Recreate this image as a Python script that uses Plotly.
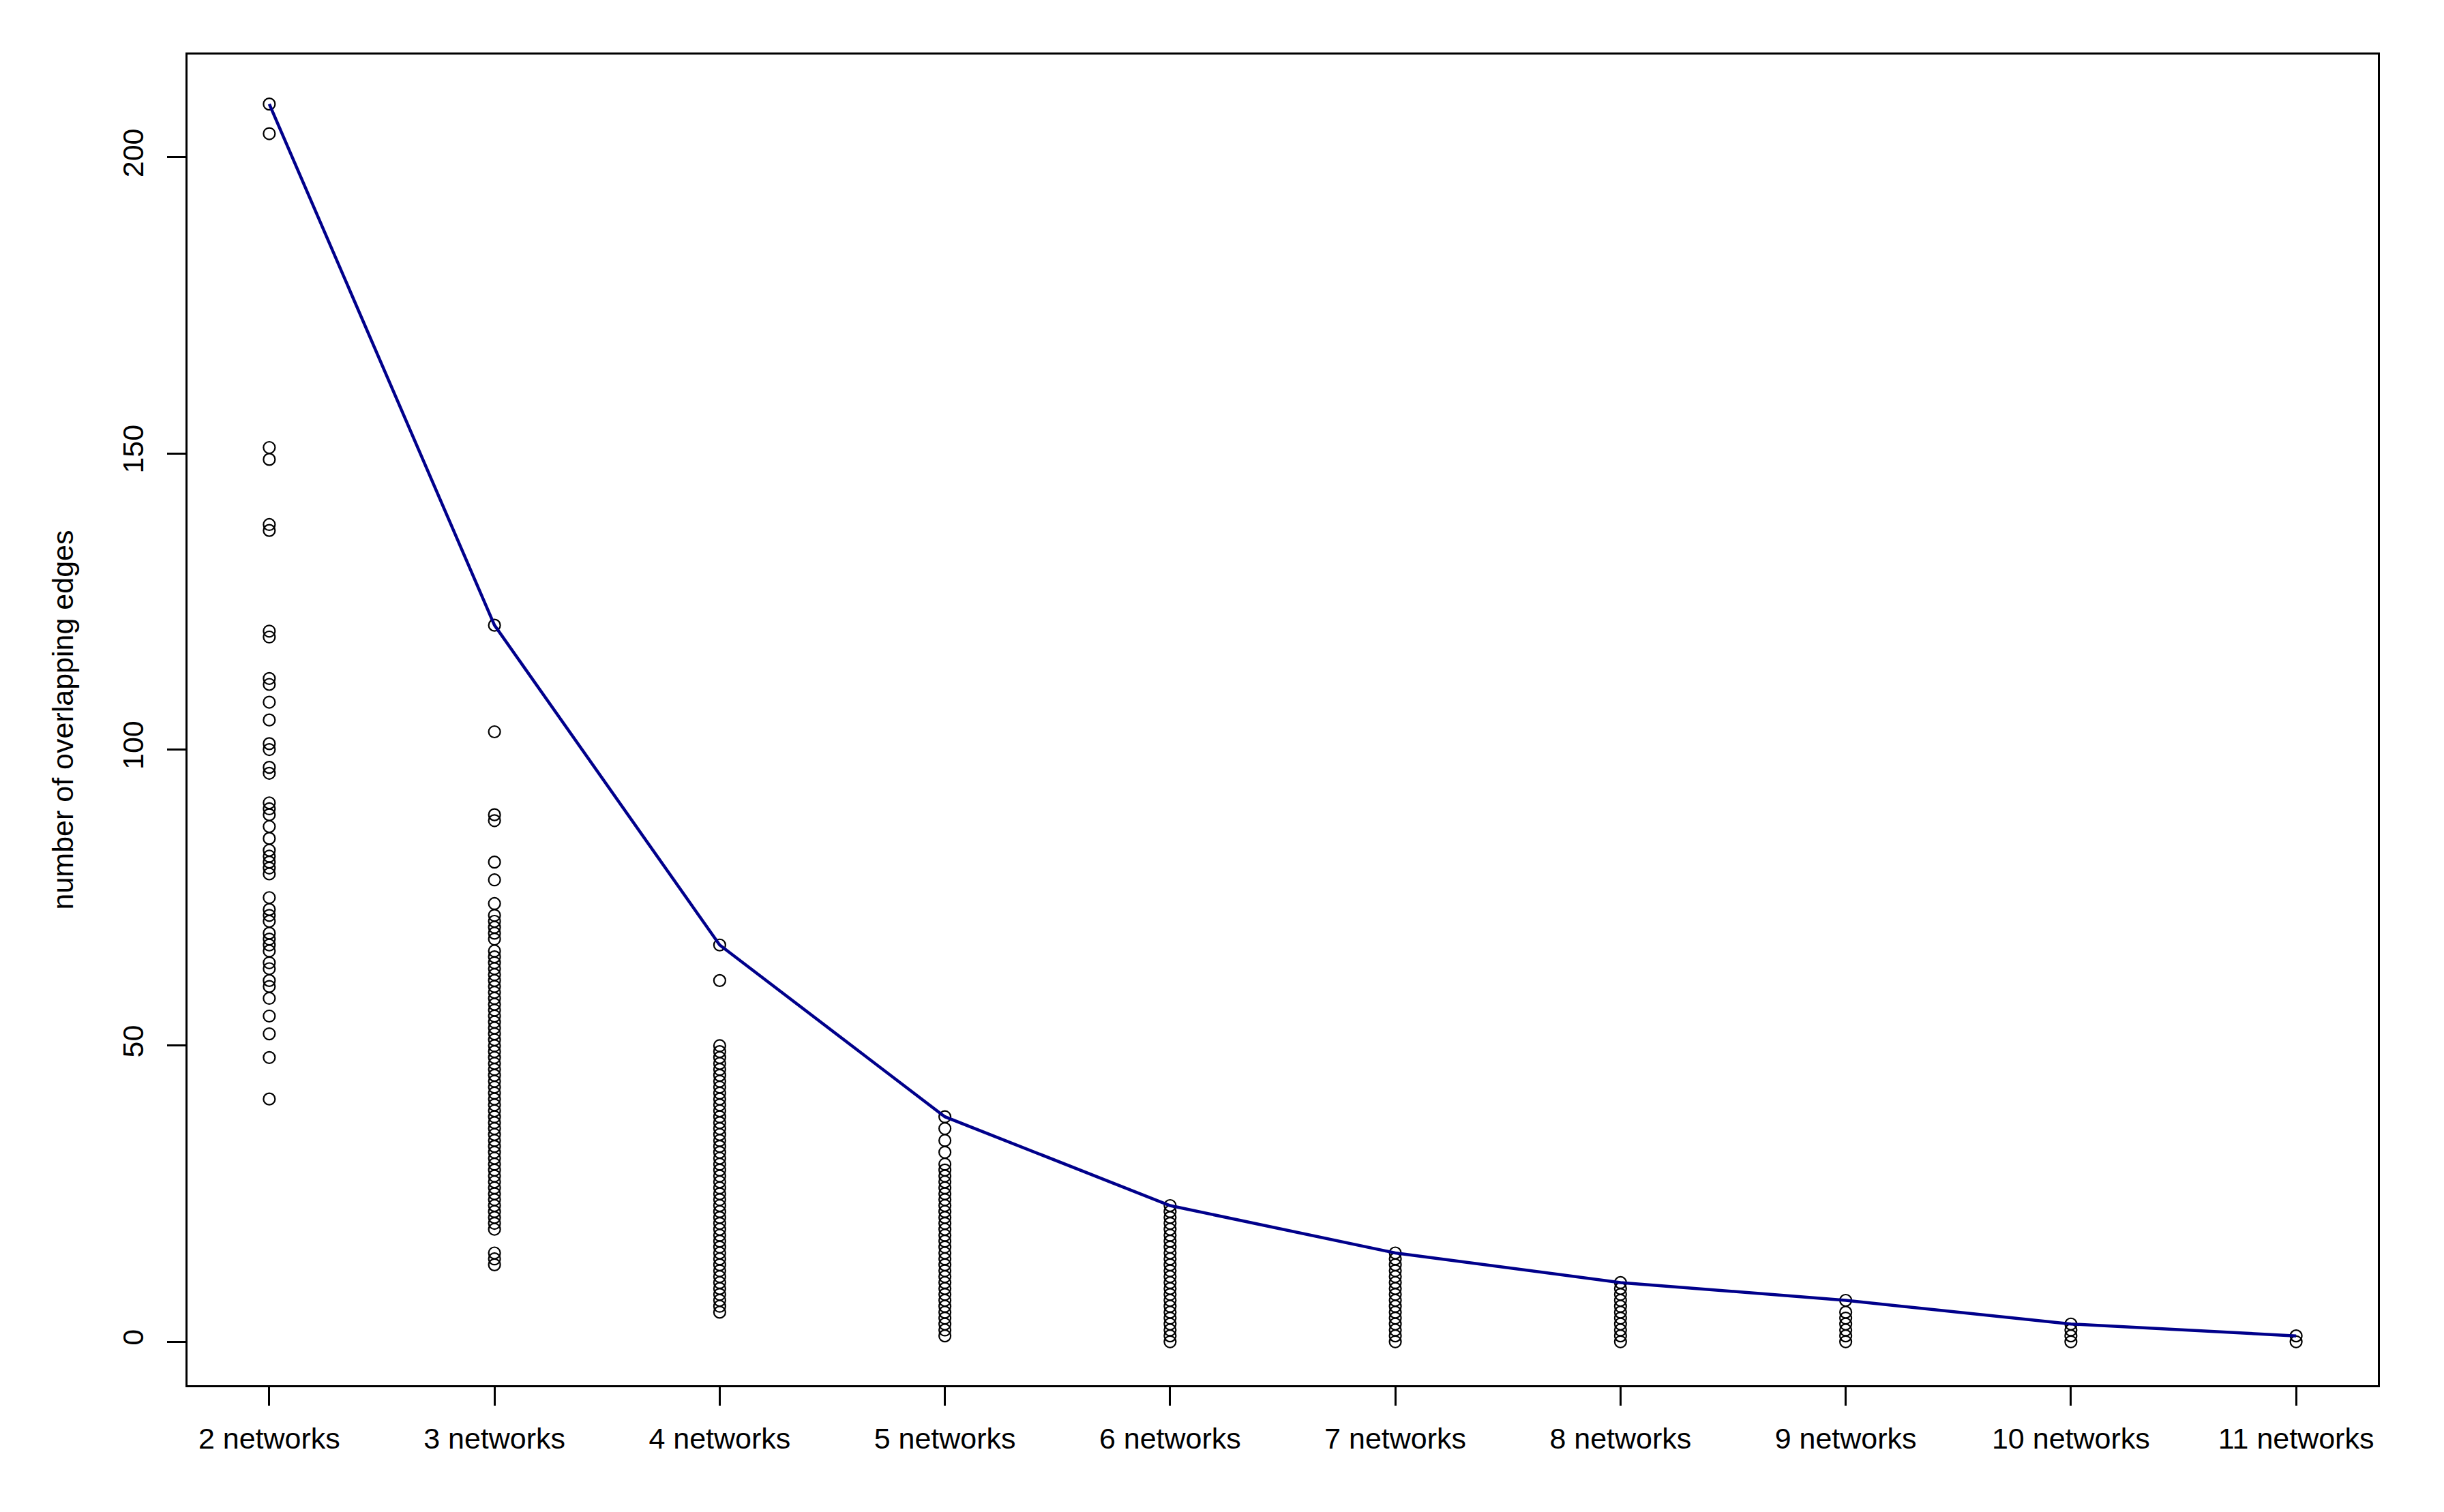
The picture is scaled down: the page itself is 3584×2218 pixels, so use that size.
import plotly.graph_objects as go

categories = ["2 networks", "3 networks", "4 networks", "5 networks", "6 networks",
              "7 networks", "8 networks", "9 networks", "10 networks", "11 networks"]

edges_2 = [209, 204, 151, 149, 138, 137, 120, 119, 112, 111, 108, 105, 101, 100, 97, 96,
           91, 90, 89, 87, 85, 83, 82, 81, 80, 79, 75, 73, 72, 71, 69, 68, 67, 66, 64, 63,
           61, 60, 58, 55, 52, 48, 41]
edges_3 = [121, 103, 89, 88, 81, 78, 74, 72, 71, 70, 69, 68, 66, 65, 64, 63, 62, 61, 60,
           59, 58, 57, 56, 55, 54, 53, 52, 51, 50, 49, 48, 47, 46, 45, 44, 43, 42, 41, 40,
           39, 38, 37, 36, 35, 34, 33, 32, 31, 30, 29, 28, 27, 26, 25, 24, 23, 22, 21, 20,
           19, 15, 14, 13]
edges_4 = [67, 61, 50, 49, 48, 47, 46, 45, 44, 43, 42, 41, 40, 39, 38, 37, 36, 35, 34, 33,
           32, 31, 30, 29, 28, 27, 26, 25, 24, 23, 22, 21, 20, 19, 18, 17, 16, 15, 14, 13,
           12, 11, 10, 9, 8, 7, 6, 5]
edges_5 = [38, 36, 34, 32, 30, 29, 28, 27, 26, 25, 24, 23, 22, 21, 20, 19, 18, 17, 16, 15,
           14, 13, 12, 11, 10, 9, 8, 7, 6, 5, 4, 3, 2, 1]
edges_6 = [23, 22, 21, 20, 19, 18, 17, 16, 15, 14, 13, 12, 11, 10, 9, 8, 7, 6, 5, 4, 3, 2,
           1, 0]
edges_7 = [15, 14, 13, 12, 11, 10, 9, 8, 7, 6, 5, 4, 3, 2, 1, 0]
edges_8 = [10, 9, 8, 7, 6, 5, 4, 3, 2, 1, 0]
edges_9 = [7, 5, 4, 3, 2, 1, 0]
edges_10 = [3, 2, 1, 0]
edges_11 = [1, 0]

max_edges = [209, 121, 67, 38, 23, 15, 10, 7, 3, 1]

y_ticks = [0, 50, 100, 150, 200]
y_title = "number of overlapping edges"

groups = [edges_2, edges_3, edges_4, edges_5, edges_6, edges_7, edges_8, edges_9,
          edges_10, edges_11]
positions = list(range(1, len(categories) + 1))

px_x, px_y = [], []
for pos, vals in zip(positions, groups):
    px_x.extend([pos] * len(vals))
    px_y.extend(vals)

FONT = "Liberation Sans, Arial, Helvetica, sans-serif"

fig = go.Figure()
fig.add_trace(go.Scatter(
    x=px_x, y=px_y, mode="markers",
    marker=dict(symbol="circle-open", size=17, color="black", line=dict(width=2.2, color="black")),
    showlegend=False, hoverinfo="y"))
fig.add_trace(go.Scatter(
    x=positions, y=max_edges, mode="lines",
    line=dict(color="#00008B", width=4.5),
    showlegend=False))

fig.update_layout(
    width=3584, height=2218,
    margin=dict(l=267, r=105, t=72, b=194),
    paper_bgcolor="white", plot_bgcolor="white",
    font=dict(family=FONT, size=43, color="black"),
)
fig.update_xaxes(
    range=[0.637, 10.363], tickmode="array", tickvals=positions, ticktext=categories,
    showgrid=False, zeroline=False,
    showline=True, linecolor="black", linewidth=2.5, mirror=True,
    ticks="outside", ticklen=27, tickwidth=2.5, tickcolor="black",
    ticklabelstandoff=12,
    tickfont=dict(family=FONT, size=43, color="black"),
)
fig.update_yaxes(
    range=[-7.33, 217.36], tickmode="array", tickvals=y_ticks,
    ticktext=[str(v) for v in y_ticks], tickangle=-90,
    showgrid=False, zeroline=False,
    showline=True, linecolor="black", linewidth=2.5, mirror=True,
    ticks="outside", ticklen=27, tickwidth=2.5, tickcolor="black",
    ticklabelstandoff=18,
    tickfont=dict(family=FONT, size=43, color="black"),
    title=dict(text=y_title, font=dict(family=FONT, size=43, color="black"), standoff=50),
)

fig.write_html("out.html")
